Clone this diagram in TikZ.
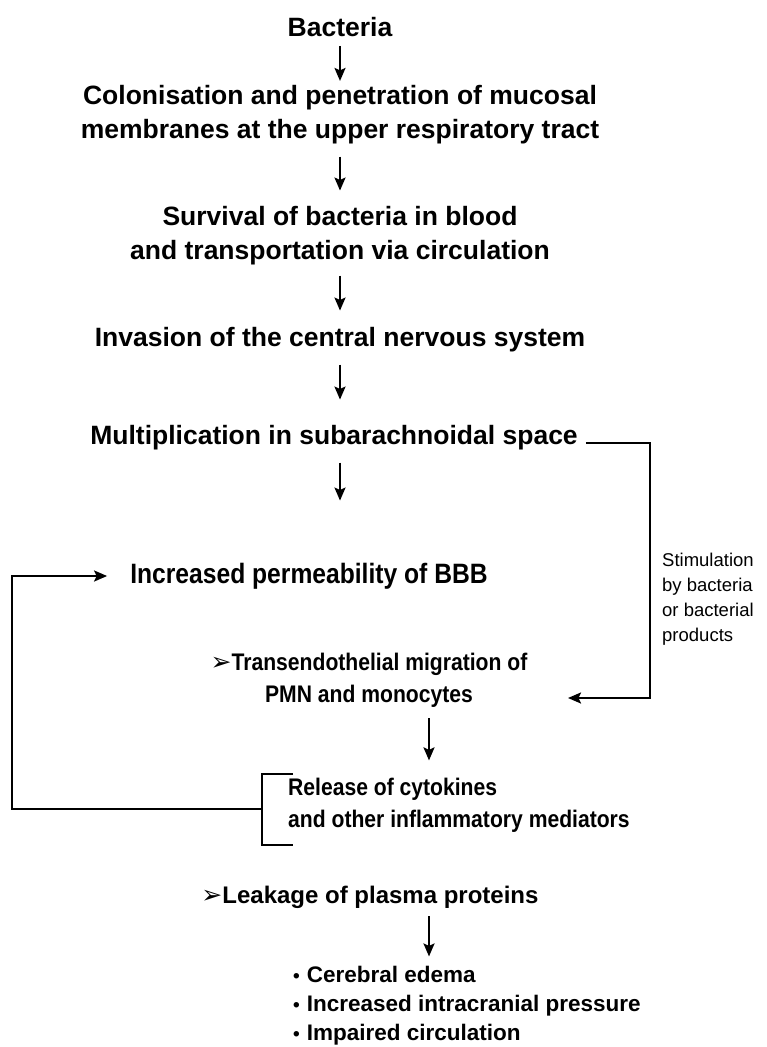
\documentclass[tikz,border=0pt]{standalone}
\usepackage{fontspec}
\setmainfont{Liberation Sans}
\newfontfamily\narrowfont[FakeStretch=0.88]{Liberation Sans}
\newfontfamily\dingfont{DejaVu Sans}
\usetikzlibrary{arrows.meta,calc}
\newcommand{\pointer}{{\dingfont\mdseries\fontsize{25}{25}\selectfont\char"27A2}}
\newcommand{\smallbullet}{{\fontsize{19}{19}\selectfont\raisebox{0.5pt}{•}}\hspace{7pt}}
\begin{document}
\begin{tikzpicture}[x=1pt,y=-1pt,
  main/.style={font=\bfseries\fontsize{26.5}{34}\selectfont, align=center, inner sep=0pt},
  bigN/.style={font=\narrowfont\bfseries\fontsize{28}{34}\selectfont, align=center, inner sep=0pt},
  smallN/.style={font=\narrowfont\bfseries\fontsize{24}{32}\selectfont, inner sep=0pt},
  mid/.style={font=\bfseries\fontsize{24}{30}\selectfont, inner sep=0pt},
  bul/.style={font=\bfseries\fontsize{22.5}{29}\selectfont, inner sep=0pt, align=left},
  stim/.style={font=\fontsize{18.5}{25}\selectfont, inner sep=0pt, align=left},
  arr/.style={line width=2.2pt, -{Stealth[length=13pt,width=11pt,inset=2.5pt]}},
  ln/.style={line width=2.2pt}]
\useasboundingbox (0,0) rectangle (766,1047);
% texts
\node[main] (bact) at (340,27) {Bacteria};
\node[main] (colon) at (340,115) {Colonisation and penetration of mucosal\\membranes at the upper respiratory tract};
\node[main] (surv) at (340,236) {Survival of bacteria in blood\\and transportation via circulation};
\node[main] (inv) at (340,340) {Invasion of the central nervous system};
\node[main] (mult) at (334,438) {Multiplication in subarachnoidal space};
\node[bigN] (bbb) at (309,576) {Increased permeability of BBB};
\node[smallN, align=center] (trans) at (369,680) {\pointer Transendothelial migration of\\PMN and monocytes};
\node[smallN, align=left, anchor=west] (rel) at (288,805) {Release of cytokines\\and other inflammatory mediators};
\node[mid] (leak) at (370,897) {\pointer Leakage of plasma proteins};
\node[bul, anchor=west] (eff) at (293,1006) {\smallbullet Cerebral edema\\\smallbullet Increased intracranial pressure\\\smallbullet Impaired circulation};
\node[stim, anchor=west] (stimtxt) at (662,599) {Stimulation\\by bacteria\\or bacterial\\products};
% helper coordinates
\coordinate (ax) at (340,0);
\coordinate (bx) at (429,0);
\coordinate (fl) at (12,0);
\coordinate (rx) at (650,0);
\coordinate (tip) at (568,698);
% main down arrows: gap below upper node / length
\foreach \a/\c/\g/\l in {bact/ax/9/35, colon/ax/12/34, surv/ax/10/35, inv/ax/12/35, mult/ax/12/38, trans/bx/11/42, leak/bx/8/40}{
  \draw[arr] (\a.south -| \c) ++(0,\g) -- ++(0,\l);
}
% bracket around release
\draw[ln] ([xshift=5pt]rel.north west) ++(0,-4) coordinate (bt) -- ++(-31,0) coordinate (bl) -- ++(0,71) coordinate (bb) -- ++(31,0);
\coordinate (brk) at ($(bl)!0.5!(bb)$);
% feedback loop
\draw[arr] (brk) -- (brk -| fl) |- ([xshift=-23pt]bbb.west);
% stimulation connector
\coordinate (ms) at ([xshift=8pt,yshift=-5pt]mult.east);
\draw[arr] (ms) -- (ms -| rx) |- (tip);
\end{tikzpicture}
\end{document}
